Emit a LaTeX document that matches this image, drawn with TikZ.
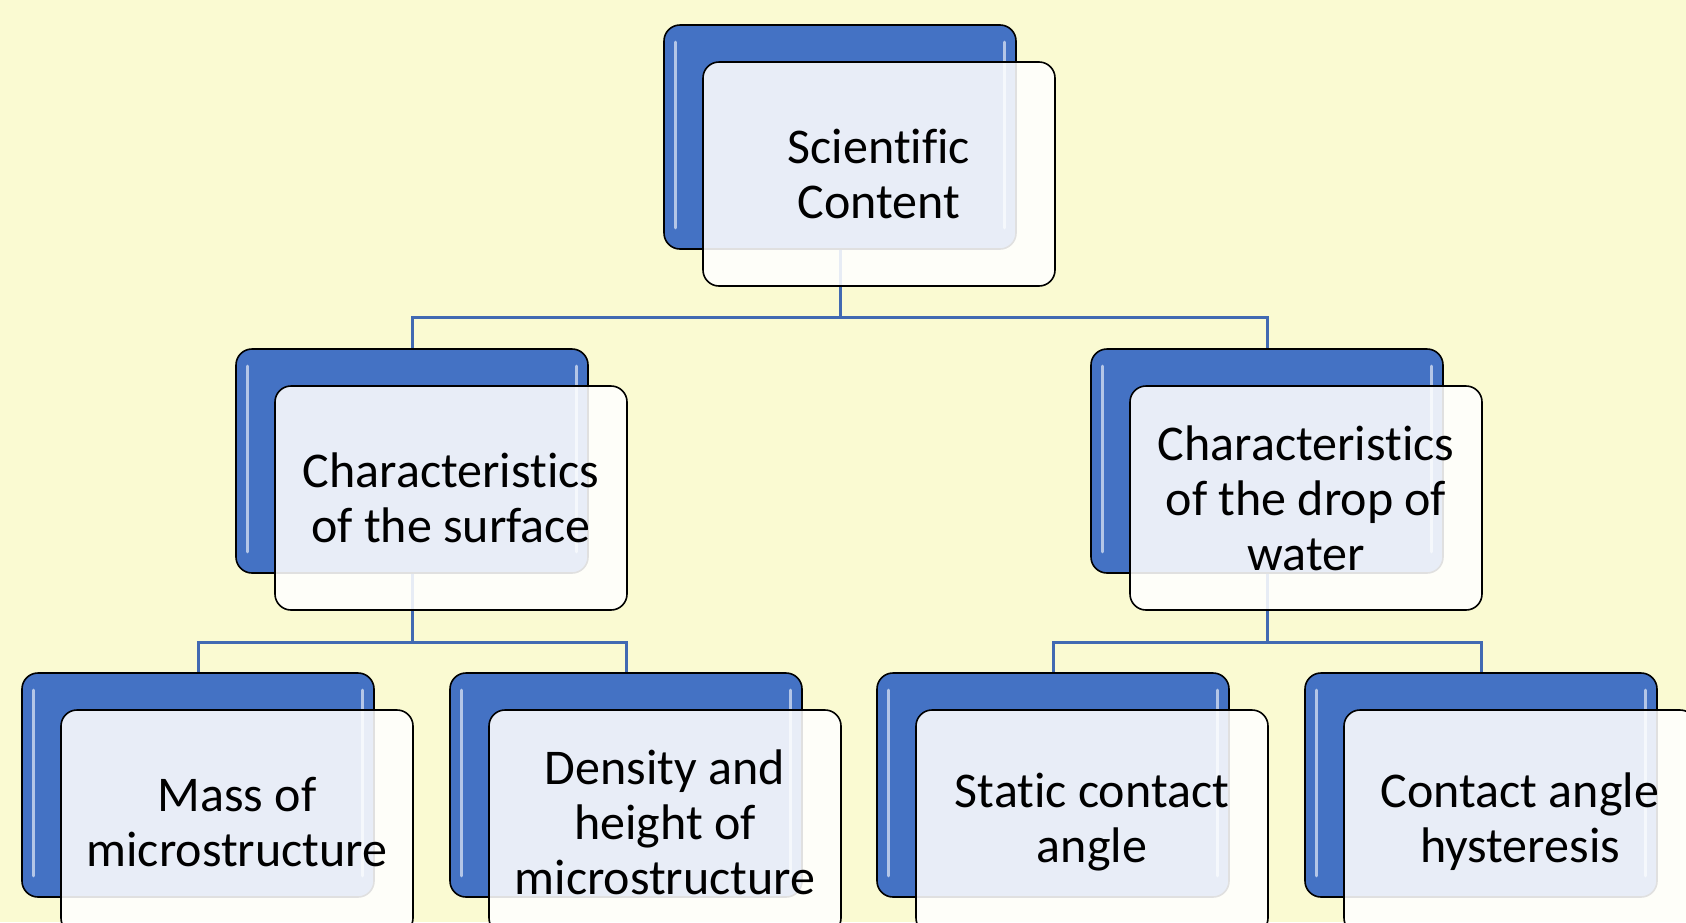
\documentclass[tikz,border=0pt]{standalone}
\usepackage{fontspec}
\setmainfont{Carlito}[Ligatures={NoCommon}]
\usetikzlibrary{positioning}
\definecolor{bgyellow}{RGB}{250,250,210}
\definecolor{boxblue}{RGB}{68,114,196}
\definecolor{lineblue}{RGB}{65,105,178}
\tikzset{
  backbox/.style={ draw=black, line width=0.8pt, fill=boxblue, rounded corners=8pt, minimum width=176pt, minimum height=112pt, inner sep=0pt }
}
\tikzset{
  frontbox/.style={ draw=black, line width=0.8pt, fill=white, fill opacity=0.88, text opacity=1, rounded corners=8pt, minimum width=176pt, minimum height=112pt, inner sep=0pt, align=center, font=\fontsize{25}{27.5}\selectfont }
}
\tikzset{
  conn/.style={ draw=lineblue, line width=1.5pt }
}
\tikzset{
  gloss/.style={ draw=white, line width=1.5pt, opacity=0.6, line cap=round }
}

\begin{document}
\begin{tikzpicture}[x=0.5pt, y=-0.5pt]
      \fill[bgyellow] (0, 0) rectangle (1686, 922);
      \useasboundingbox (0, 0) rectangle (1686, 922);

      % blue boxes behind
      \node[backbox] (scB) at (840, 137) {};
      \node[backbox] (surfB) at (412, 461) {};
      \node[backbox] (dropB) at (1267, 461) {};
      \node[backbox] (massB) at (198, 785) {};
      \node[backbox] (densB) at (626, 785) {};
      \node[backbox] (statB) at (1053, 785) {};
      \node[backbox] (hystB) at (1481, 785) {};

      \foreach \n in {scB, surfB, dropB, massB, densB, statB, hystB} {
        \draw[gloss] ([xshift=6pt, yshift=-9pt]\n.north west) -- ([xshift=6pt, yshift=11pt]\n.south west);
        \draw[gloss] ([xshift=-6pt, yshift=-9pt]\n.north east) -- ([xshift=-6pt, yshift=11pt]\n.south east);
      }

      % connectors
      \coordinate (bus0) at (840, 317);
      \draw[conn] (scB.south) -- (bus0) -| (surfB.north);
      \draw[conn] (bus0) -| (dropB.north);
      \coordinate (bus1) at (412, 642);
      \draw[conn] (surfB.south) -- (bus1) -| (massB.north);
      \draw[conn] (bus1) -| (densB.north);
      \coordinate (bus2) at (1267, 642);
      \draw[conn] (dropB.south) -- (bus2) -| (statB.north);
      \draw[conn] (bus2) -| (hystB.north);

      % text boxes in front
      \node[frontbox] (scF) at ([shift={(39, 37)}]scB) {Scientific\\Content};
      \node[frontbox] (surfF) at ([shift={(39, 37)}]surfB) {Characteristics\\of the surface};
      \node[frontbox] (dropF) at ([shift={(39, 37)}]dropB) {Characteristics\\of the drop of\\water};
      \node[frontbox] (massF) at ([shift={(39, 37)}]massB) {Mass of\\microstructure};
      \node[frontbox] (densF) at ([shift={(39, 37)}]densB) {Density and\\height of\\microstructure};
      \node[frontbox] (statF) at ([shift={(39, 37)}]statB) {Static contact\\angle};
      \node[frontbox] (hystF) at ([shift={(39, 37)}]hystB) {Contact angle\\hysteresis};
\end{tikzpicture}
\end{document}
